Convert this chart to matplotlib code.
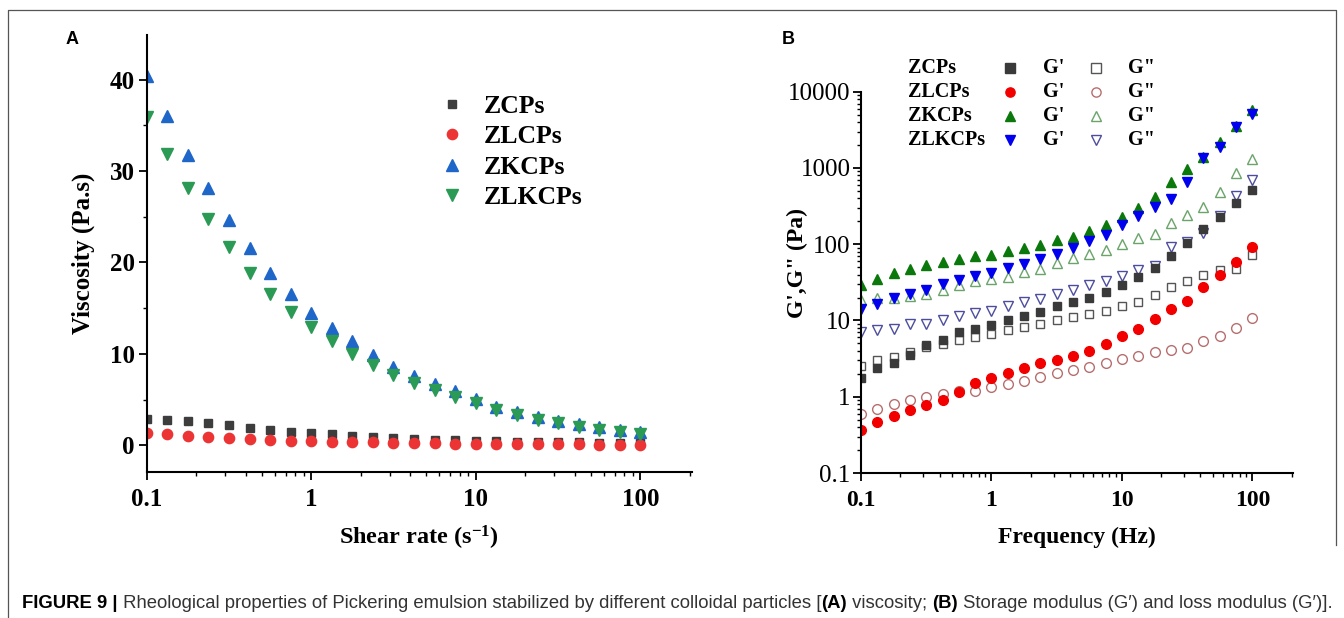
"""Rheological properties of Pickering emulsions (viscosity and moduli)."""

import matplotlib.pyplot as plt
from matplotlib import font_manager
from matplotlib.ticker import AutoMinorLocator, FixedLocator, FixedFormatter, NullFormatter

# ---- data -------------------------------------------------------------
shear_rate = [0.1, 0.133, 0.178, 0.237, 0.316, 0.422, 0.562, 0.75, 1.0, 1.33, 1.78,
              2.37, 3.16, 4.22, 5.62, 7.5, 10, 13.3, 17.8, 23.7, 31.6, 42.2, 56.2, 75, 100]
visc_zcps = [2.9, 2.8, 2.6, 2.4, 2.2, 1.9, 1.7, 1.5, 1.3, 1.2, 1.0, 0.9, 0.8,
             0.7, 0.6, 0.55, 0.5, 0.45, 0.4, 0.35, 0.32, 0.3, 0.27, 0.24, 0.2]
visc_zlcps = [1.3, 1.2, 1.0, 0.9, 0.8, 0.7, 0.6, 0.5, 0.45, 0.4, 0.35, 0.3, 0.28,
              0.25, 0.2, 0.18, 0.15, 0.13, 0.12, 0.1, 0.09, 0.08, 0.07, 0.06, 0.05]
visc_zkcps = [40.4, 36.0, 31.8, 28.1, 24.6, 21.6, 18.9, 16.6, 14.5, 12.8, 11.4, 9.9, 8.6,
              7.6, 6.7, 5.9, 5.1, 4.2, 3.6, 3.1, 2.6, 2.3, 2.0, 1.7, 1.45]
visc_zlkcps = [35.9, 31.9, 28.2, 24.8, 21.7, 18.9, 16.6, 14.6, 12.9, 11.4, 10.0, 8.8, 7.7,
               6.8, 6.0, 5.3, 4.6, 3.9, 3.3, 2.8, 2.4, 2.0, 1.7, 1.4, 1.25]

frequency = [0.1, 0.133, 0.178, 0.237, 0.316, 0.422, 0.562, 0.75, 1.0, 1.33, 1.78,
             2.37, 3.16, 4.22, 5.62, 7.5, 10, 13.3, 17.8, 23.7, 31.6, 42.2, 56.2, 75, 100]
g1_zcps = [1.74, 2.36, 2.8, 3.5, 4.8, 5.5, 7.0, 7.7, 8.8, 10.2, 11.6, 13.1, 15.3,
           17.3, 19.9, 23.6, 29.4, 37.2, 49.3, 70, 104, 160, 227, 350, 510]
g2_zcps = [2.53, 3.0, 3.36, 3.9, 4.5, 4.9, 5.5, 6.0, 6.6, 7.5, 8.1, 9.0, 10,
           11, 12.2, 13.5, 15.3, 17.4, 21.3, 27.5, 33, 39, 46, 48, 72]
g1_zlcps = [0.37, 0.46, 0.56, 0.68, 0.77, 0.92, 1.16, 1.5, 1.78, 2.07, 2.36, 2.75, 3.0,
            3.4, 4.0, 4.9, 6.2, 7.7, 10.4, 14.3, 17.8, 27.5, 40, 58.6, 92]
g2_zlcps = [0.60, 0.70, 0.80, 0.90, 1.0, 1.1, 1.2, 1.2, 1.33, 1.47, 1.62, 1.8, 2.03,
            2.24, 2.43, 2.75, 3.1, 3.43, 3.83, 4.1, 4.4, 5.4, 6.2, 7.9, 10.7]
g1_zkcps = [28.9, 35.3, 42.4, 47.9, 54, 58.6, 63.5, 69.5, 73, 81, 89.5, 97, 113,
            125, 150, 181, 229, 295, 420, 660, 960, 1410, 2220, 3500, 5670]
g2_zkcps = [18.3, 19.5, 20, 21, 22, 25, 29, 33, 35, 37, 43, 48, 57,
            65, 75, 85, 100, 122, 138, 190, 240, 310, 488, 850, 1300]
g1_zlkcps = [14.2, 16.6, 19.9, 22, 25.3, 30.4, 33.6, 37.9, 42.4, 49.3, 55.7, 64.8, 75.3,
             90.3, 110, 134, 178, 233, 310, 386, 650, 1340, 1910, 3430, 5140]
g2_zlkcps = [7.0, 7.4, 7.8, 8.9, 9.0, 10, 11.3, 12.5, 13.5, 15.6, 17.3, 19.3, 22,
             24.8, 29, 33, 38, 46.4, 52, 93, 107, 140, 235, 428, 700]

samples = ["ZCPs", "ZLCPs", "ZKCPs", "ZLKCPs"]
log_ticks = [0.1, 1, 10, 100]
log_tick_labels = ["0.1", "1", "10", "100"]
mod_ticks = [0.1, 1, 10, 100, 1000, 10000]
mod_tick_labels = ["0.1", "1", "10", "100", "1000", "10000"]

caption_parts = [
    ("FIGURE 9 |", "bold", "black"),
    (" Rheological properties of Pickering emulsion stabilized by different colloidal particles [", "normal", "#333333"),
    ("(A)", "bold", "black"),
    (" viscosity; ", "normal", "#333333"),
    ("(B)", "bold", "black"),
    (" Storage modulus (G\u2032) and loss modulus (G\u2032)].", "normal", "#333333"),
]

# ---- style ------------------------------------------------------------
SERIF = "Liberation Serif"
names = {f.name for f in font_manager.fontManager.ttflist}
CAP_FONT = "Liberation Sans Narrow" if "Liberation Sans Narrow" in names else "Liberation Sans"
CAP_SIZE = 16.3 if CAP_FONT == "Liberation Sans Narrow" else 13.3

plt.rcParams["font.family"] = [SERIF, "DejaVu Sans"]
plt.rcParams["font.weight"] = "bold"
plt.rcParams["mathtext.default"] = "regular"

W, H = 1344, 618
fig = plt.figure(figsize=(W / 100, H / 100), dpi=100)


def frac(x0, y0, x1, y1):
    """Pixel box (top-left origin) -> figure fraction rect."""
    return [x0 / W, 1 - y1 / H, (x1 - x0) / W, (y1 - y0) / H]


def style_axis(ax):
    for side in ("top", "right"):
        ax.spines[side].set_visible(False)
    for side in ("left", "bottom"):
        ax.spines[side].set_linewidth(1.5)
    ax.tick_params(which="major", direction="out", length=6, width=1.3)
    ax.tick_params(which="minor", direction="out", length=3.2, width=1.0)


# ---- panel A ----------------------------------------------------------
ax1 = fig.add_axes(frac(146.7, 35, 691.7, 471.7))
ax1.set_xscale("log")
ax1.set_xlim(0.1, 205)
ax1.set_ylim(-2.9, 44.9)
style_axis(ax1)

ms_a = 7.4
ax1.plot(shear_rate, visc_zcps, "s", ms=ms_a * 0.85, color="#3d3d3d", mec="#3d3d3d", label=samples[0])
ax1.plot(shear_rate, visc_zlcps, "o", ms=ms_a, color="#ec3434", mec="#ec3434", label=samples[1])
ax1.plot(shear_rate, visc_zkcps, "^", ms=ms_a * 1.25, color="#1f66c9", mec="#1f66c9", label=samples[2])
ax1.plot(shear_rate, visc_zlkcps, "v", ms=ms_a * 1.25, color="#2b9a55", mec="#2b9a55", label=samples[3])

ax1.xaxis.set_major_locator(FixedLocator(log_ticks))
ax1.xaxis.set_major_formatter(FixedFormatter(log_tick_labels))
ax1.xaxis.set_minor_formatter(NullFormatter())
ax1.set_yticks([0, 10, 20, 30, 40])
ax1.yaxis.set_minor_locator(AutoMinorLocator(2))
ax1.tick_params(axis="x", which="major", labelsize=18, pad=6)
ax1.tick_params(axis="y", which="major", labelsize=18, pad=2.5)

ax1.set_xlabel("Shear rate (s$^{-1}$)", fontsize=17.5, fontweight="bold", va="center")
ax1.set_ylabel("Viscosity (Pa.s)", fontsize=18, fontweight="bold", va="center")
ax1.xaxis.set_label_coords(0.5, -0.152)
ax1.yaxis.set_label_coords(-0.117, 0.5)

leg = ax1.legend(loc="upper left", bbox_to_anchor=(0.537, 0.862), frameon=False,
                 prop={"family": SERIF, "weight": "bold", "size": 18.5},
                 handlelength=1.0, handletextpad=0.71, labelspacing=0.28,
                 borderpad=0, borderaxespad=0)

# ---- panel B ----------------------------------------------------------
ax2 = fig.add_axes(frac(861, 91.7, 1293, 473))
ax2.set_xscale("log")
ax2.set_yscale("log")
ax2.set_xlim(0.1, 205)
ax2.set_ylim(0.1, 10000)
style_axis(ax2)

ms_b = 7.0
series_b = [
    (g2_zcps, "s", "#555555", "none", ms_b * 0.85),
    (g2_zlcps, "o", "#b86e6e", "none", ms_b),
    (g2_zkcps, "^", "#6aa46a", "none", ms_b * 1.05),
    (g2_zlkcps, "v", "#4d4d9e", "none", ms_b * 1.05),
    (g1_zcps, "s", "#3a3a3a", "#3a3a3a", ms_b * 0.85),
    (g1_zlcps, "o", "#f20000", "#f20000", ms_b),
    (g1_zkcps, "^", "#0b780b", "#0b780b", ms_b * 1.05),
    (g1_zlkcps, "v", "#0000ee", "#0000ee", ms_b * 1.05),
]
for vals, mk, ec, fc, size in series_b:
    ax2.plot(frequency, vals, mk, ms=size, mec=ec, mfc=fc, mew=1.0, ls="none")

ax2.xaxis.set_major_locator(FixedLocator(log_ticks))
ax2.xaxis.set_major_formatter(FixedFormatter(log_tick_labels))
ax2.xaxis.set_minor_formatter(NullFormatter())
ax2.yaxis.set_major_locator(FixedLocator(mod_ticks))
ax2.yaxis.set_major_formatter(FixedFormatter(mod_tick_labels))
ax2.yaxis.set_minor_formatter(NullFormatter())
ax2.tick_params(axis="x", which="major", labelsize=17, pad=6)
ax2.tick_params(axis="y", which="major", labelsize=18, pad=1.5)
for lab in ax2.get_yticklabels():
    lab.set_fontweight("normal")

ax2.set_xlabel("Frequency (Hz)", fontsize=17, fontweight="bold", va="center")
ax2.set_ylabel("G',G\" (Pa)", fontsize=17, fontweight="bold", va="center")
ax2.xaxis.set_label_coords(0.5, -0.170)
ax2.yaxis.set_label_coords(-0.148, 0.55)

# table-like legend of panel B
row_y = [1.063, 0.998, 0.936, 0.873]
filled = [("s", "#3a3a3a"), ("o", "#f20000"), ("^", "#0b780b"), ("v", "#0000ee")]
opened = [("s", "#555555"), ("o", "#b86e6e"), ("^", "#6aa46a"), ("v", "#4d4d9e")]
for yy, name, (fm, fcol), (om, ocol) in zip(row_y, samples, filled, opened):
    kw = dict(transform=ax2.transAxes, fontsize=14.5, fontweight="bold", va="center", family=SERIF)
    ax2.text(0.109, yy, name, **kw)
    ax2.text(0.421, yy, "G'", **kw)
    ax2.text(0.618, yy, "G\"", **kw)
    ax2.plot([0.345], [yy], fm, ms=ms_b * 0.95, mfc=fcol, mec=fcol,
             transform=ax2.transAxes, clip_on=False)
    ax2.plot([0.544], [yy], om, ms=ms_b * 0.95, mfc="none", mec=ocol, mew=1.0,
             transform=ax2.transAxes, clip_on=False)

# ---- panel letters, frame, caption ----------------------------------
fig.text(72 / W, 1 - 40 / H, "A", family="Liberation Sans", fontweight="bold",
         fontsize=13, ha="center", va="center")
fig.text(788 / W, 1 - 40 / H, "B", family="Liberation Sans", fontweight="bold",
         fontsize=13, ha="center", va="center")

over = fig.add_axes([0, 0, 1, 1], zorder=-1)
over.set_xlim(0, W)
over.set_ylim(H, 0)
over.axis("off")
over.plot([8, 8, 1336, 1336], [H, 10, 10, 545], color="#555555", lw=0.9)

prev = over.text(22, 612, caption_parts[0][0], family=[CAP_FONT, "DejaVu Sans"],
                 fontsize=CAP_SIZE, fontweight=caption_parts[0][1],
                 color=caption_parts[0][2], ha="left", va="bottom")
for txt, wt, col in caption_parts[1:]:
    prev = over.annotate(txt, xy=(1, 0), xycoords=prev, ha="left", va="bottom",
                         family=[CAP_FONT, "DejaVu Sans"], fontsize=CAP_SIZE,
                         fontweight=wt, color=col)

fig.savefig("out.png", dpi=100)
plt.close(fig)
